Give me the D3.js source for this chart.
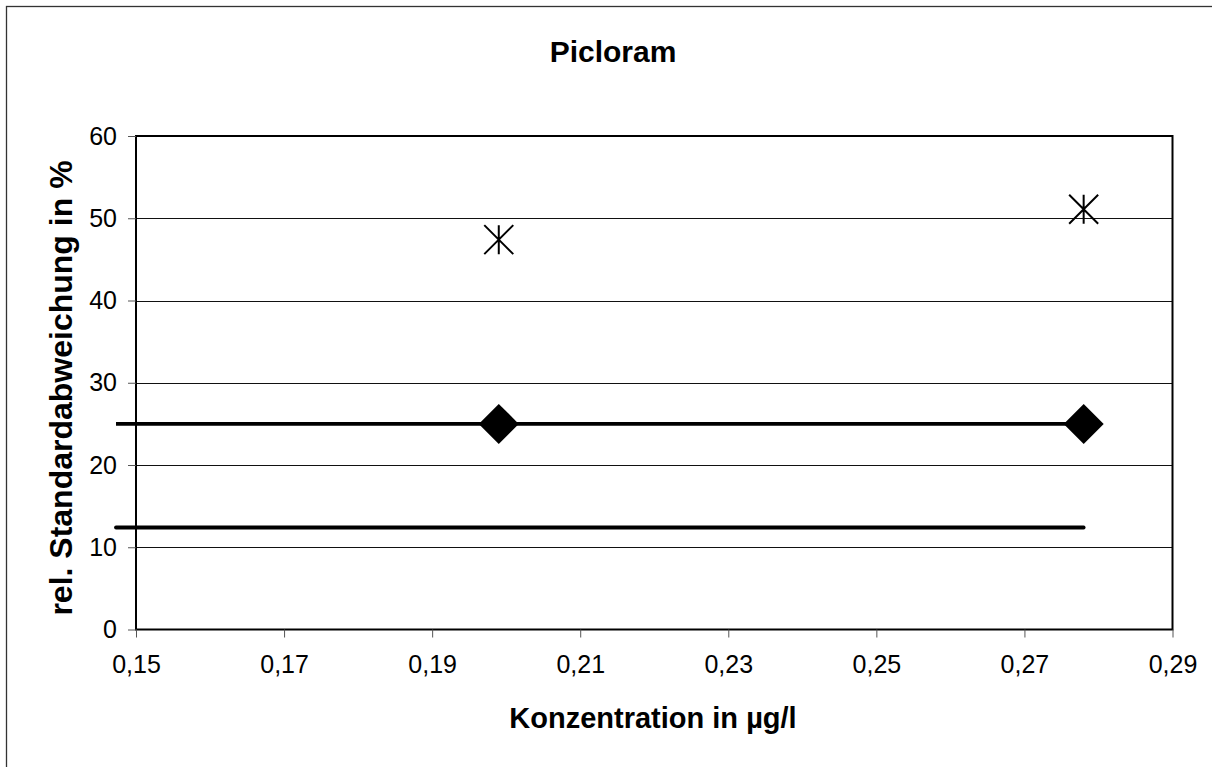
<!DOCTYPE html>
<html>
<head>
<meta charset="utf-8">
<script src="https://cdn.jsdelivr.net/npm/d3@7"></script>
<style>
  html, body { margin: 0; padding: 0; background: #fff; }
  svg { display: block; font-family: "Liberation Sans", Arial, sans-serif; }
</style>
</head>
<body>
<svg id="chart" width="1212" height="767"></svg>
<script>
// ---- data ----
const chartTitle = "Picloram";
const xAxisTitle = "Konzentration in µg/l";
const yAxisTitle = "rel. Standardabweichung in %";
const xTickValues = [0.15, 0.17, 0.19, 0.21, 0.23, 0.25, 0.27, 0.29];
const yTickValues = [0, 10, 20, 30, 40, 50, 60];
// measured relative standard deviation (star markers)
const measuredX = [0.199, 0.278];
const measuredY = [47.4, 51.1];
// upper limit line (diamond markers)
const limitX = [0.1473, 0.199, 0.278];
const limitY = [25, 25, 25];
const limitMarker = [false, true, true];
// lower reference line
const lowerX = [0.1473, 0.278];
const lowerY = [12.4, 12.4];

// ---- layout ----
const svg = d3.select("#chart");
const plot = { left: 136, right: 1172.5, top: 136, bottom: 629.5 };

const x = d3.scaleLinear().domain([0.15, 0.29]).range([plot.left, plot.right]);
const y = d3.scaleLinear().domain([0, 60]).range([plot.bottom, plot.top]);

// outer frame
svg.append("rect")
  .attr("x", 6.5).attr("y", 6.5).attr("width", 1220).attr("height", 780)
  .attr("fill", "none").attr("stroke", "#333").attr("stroke-width", 1.3);

// gridlines
svg.append("g").selectAll("line").data(yTickValues.filter(d => d > 0)).join("line")
  .attr("x1", plot.left).attr("x2", plot.right)
  .attr("y1", d => Math.round(y(d)) + 0.5).attr("y2", d => Math.round(y(d)) + 0.5)
  .attr("stroke", "#111").attr("stroke-width", 1);

// plot border
svg.append("rect")
  .attr("x", plot.left).attr("y", plot.top)
  .attr("width", plot.right - plot.left).attr("height", plot.bottom - plot.top)
  .attr("fill", "none").attr("stroke", "#000").attr("stroke-width", 2);

// y axis
const yAxis = d3.axisLeft(y).tickValues(yTickValues).tickSize(8).tickPadding(11)
  .tickFormat(d3.format("d"));
const gy = svg.append("g").attr("transform", `translate(${plot.left},0)`).call(yAxis);
gy.select(".domain").remove();
gy.selectAll(".tick line").attr("stroke", "#555").attr("stroke-width", 1);
gy.selectAll(".tick text").attr("font-size", 25).attr("fill", "#000")
  .attr("font-family", "Liberation Sans, Arial, sans-serif");

// x axis
const xAxis = d3.axisBottom(x).tickValues(xTickValues).tickSize(8).tickPadding(18)
  .tickFormat(d => d3.format(".2f")(d).replace(".", ","));
const gx = svg.append("g").attr("transform", `translate(0,${plot.bottom})`).call(xAxis);
gx.select(".domain").remove();
gx.selectAll(".tick line").attr("stroke", "#555").attr("stroke-width", 1);
gx.selectAll(".tick text").attr("font-size", 25).attr("fill", "#000")
  .attr("font-family", "Liberation Sans, Arial, sans-serif");

// lower line
const line = d3.line().x(d => x(d[0])).y(d => y(d[1]));
svg.append("path")
  .datum(lowerX.map((v, i) => [v, lowerY[i]]))
  .attr("d", line).attr("fill", "none").attr("stroke", "#000")
  .attr("stroke-width", 3.8).attr("stroke-linecap", "round");

// limit line
svg.append("path")
  .datum(limitX.map((v, i) => [v, limitY[i]]))
  .attr("d", line).attr("fill", "none").attr("stroke", "#000")
  .attr("stroke-width", 3.8);

// diamonds
const dr = 20;
svg.append("g").selectAll("path")
  .data(limitX.map((v, i) => ({ x: v, y: limitY[i], m: limitMarker[i] })).filter(d => d.m))
  .join("path")
  .attr("transform", d => `translate(${x(d.x)},${y(d.y)})`)
  .attr("d", `M0,${-dr}L${dr},0L0,${dr}L${-dr},0Z`)
  .attr("fill", "#000");

// star markers
const sr = 14.5;
const stars = svg.append("g").selectAll("g")
  .data(measuredX.map((v, i) => ({ x: v, y: measuredY[i] })))
  .join("g")
  .attr("transform", d => `translate(${x(d.x)},${y(d.y)})`);
stars.append("path")
  .attr("d", `M0,${-sr}V${sr}M${-sr},${-sr}L${sr},${sr}M${-sr},${sr}L${sr},${-sr}`)
  .attr("stroke", "#000").attr("stroke-width", 2).attr("fill", "none");

// titles
svg.append("text").attr("x", 613).attr("y", 62).attr("text-anchor", "middle")
  .attr("font-size", 30).attr("font-weight", "bold").text(chartTitle);
svg.append("text").attr("x", 653).attr("y", 728).attr("text-anchor", "middle")
  .attr("font-size", 29).attr("font-weight", "bold").text(xAxisTitle);
svg.append("text")
  .attr("transform", `translate(72,388) rotate(-90)`)
  .attr("text-anchor", "middle")
  .attr("font-size", 32).attr("font-weight", "bold").text(yAxisTitle);
</script>
</body>
</html>
